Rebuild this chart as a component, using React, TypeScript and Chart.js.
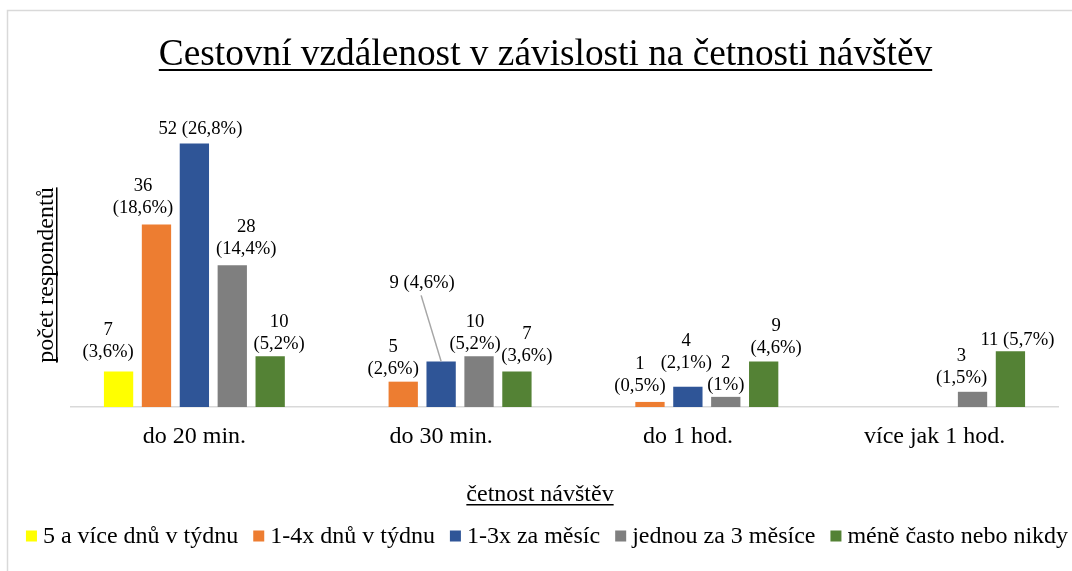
import React, { useEffect, useRef } from "react";
import { Chart, registerables } from "chart.js";

Chart.register(...registerables);

// ---------- data ----------
const categories = ["do 20 min.", "do 30 min.", "do 1 hod.", "více jak 1 hod."];
const seriesNames = [
  "5 a více dnů v týdnu",
  "1-4x dnů v týdnu",
  "1-3x za měsíc",
  "jednou za 3 měsíce",
  "méně často nebo nikdy",
];
const fiveOrMorePerWeek = [7, null, null, null];
const oneToFourPerWeek = [36, 5, 1, null];
const oneToThreePerMonth = [52, 9, 4, null];
const oncePerThreeMonths = [28, 10, 2, 3];
const lessOftenOrNever = [10, 7, 9, 11];
const seriesColors = ["#FFFF00", "#ED7D31", "#2F5597", "#7F7F7F", "#548235"];
const yMin = 0;
const yMax = 60;

const chartTitle = "Cestovní vzdálenost v závislosti na četnosti návštěv";
const yTitle = "počet respondentů";
const xTitle = "četnost návštěv";

// label placement relative to bar top centre: [dx, dy(last line), singleLine, leaderLine]
const labelPlacement: (null | [number, number, boolean, boolean?])[][] = [
  [[-10.5, -19, false], null, null, null],
  [[-13.5, -16.5, false], [-10, -13, false], [-10, -15.4, false], null],
  [[6, -14.5, true], [-19, -78, true, true], [-1.6, -24, false], null],
  [[14, -16, false], [-4, -12.7, false], [0, -11.6, false], [-11, -14, false]],
  [[9, -12, false], [10, -15.6, false], [12.5, -13.4, false], [7, -11, true]],
];

const SERIF = "'Liberation Serif', 'Times New Roman', serif";

const allSeries = [
  fiveOrMorePerWeek,
  oneToFourPerWeek,
  oneToThreePerMonth,
  oncePerThreeMonths,
  lessOftenOrNever,
];

const total = allSeries.reduce(
  (s, arr) => s + arr.reduce((a: number, v) => a + (v ?? 0), 0),
  0
);

function pctText(v: number): string {
  let t = ((v / total) * 100).toFixed(1);
  if (t.endsWith(".0")) t = t.slice(0, -2);
  return t.replace(".", ",") + "%";
}

const dataLabelPlugin = {
  id: "dataLabels",
  afterDatasetsDraw(chart: any) {
    const ctx = chart.ctx as CanvasRenderingContext2D;
    ctx.save();
    ctx.font = `18.67px ${SERIF}`;
    ctx.fillStyle = "#000";
    ctx.textAlign = "center";
    ctx.textBaseline = "middle";
    chart.data.datasets.forEach((ds: any, di: number) => {
      const meta = chart.getDatasetMeta(di);
      ds.data.forEach((v: number | null, i: number) => {
        if (v === null || v === undefined) return;
        const el = meta.data[i];
        const p = labelPlacement[di][i] || [0, -14, false];
        const lx = el.x + p[0];
        const ly = el.y + p[1];
        const a = String(v);
        const b = "(" + pctText(v) + ")";
        if (p[2]) {
          ctx.fillText(a + " " + b, lx, ly);
        } else {
          ctx.fillText(a, lx, ly - 22);
          ctx.fillText(b, lx, ly);
        }
        if (p[3]) {
          ctx.save();
          ctx.strokeStyle = "#A6A6A6";
          ctx.lineWidth = 1.5;
          ctx.beginPath();
          ctx.moveTo(lx - 1, ly + 12);
          ctx.lineTo(el.x, el.y);
          ctx.stroke();
          ctx.restore();
        }
      });
    });
    ctx.restore();
  },
};

const decorPlugin = {
  id: "decor",
  afterDraw(chart: any) {
    const ctx = chart.ctx as CanvasRenderingContext2D;
    ctx.save();
    // outer frame (top + left)
    ctx.strokeStyle = "#D9D9D9";
    ctx.lineWidth = 1.5;
    ctx.beginPath();
    ctx.moveTo(7.5, 571);
    ctx.lineTo(7.5, 10.5);
    ctx.lineTo(1072, 10.5);
    ctx.stroke();

    ctx.fillStyle = "#000";
    ctx.strokeStyle = "#000";

    // title
    ctx.font = `37.33px ${SERIF}`;
    ctx.textAlign = "center";
    ctx.textBaseline = "alphabetic";
    const tx = 545.5;
    const ty = 65;
    ctx.fillText(chartTitle, tx, ty);
    const tw = ctx.measureText(chartTitle).width;
    ctx.fillRect(tx - tw / 2, ty + 4, tw, 2);

    // x axis title
    ctx.font = `24px ${SERIF}`;
    const xx = 540;
    const xy = 501;
    ctx.fillText(xTitle, xx, xy);
    const xw = ctx.measureText(xTitle).width;
    ctx.fillRect(xx - xw / 2, xy + 3, xw, 1.5);

    // y axis title
    ctx.save();
    ctx.translate(53, 275);
    ctx.rotate(-Math.PI / 2);
    ctx.fillText(yTitle, 0, 0);
    const yw = ctx.measureText(yTitle).width;
    ctx.fillRect(-yw / 2, 3, yw, 1.5);
    ctx.restore();

    // legend
    ctx.font = `24px ${SERIF}`;
    ctx.textAlign = "left";
    const box = 11;
    const gapBoxText = 6;
    const gapItem = 15;
    const widths = chart.data.datasets.map((d: any) => ctx.measureText(d.label).width);
    const totalW =
      widths.reduce((a: number, w: number) => a + w, 0) +
      widths.length * (box + gapBoxText) +
      (widths.length - 1) * gapItem;
    let lx = 547 - totalW / 2;
    const boxCy = 536;
    const baseY = 543;
    chart.data.datasets.forEach((d: any, i: number) => {
      ctx.fillStyle = d.backgroundColor;
      ctx.fillRect(lx, boxCy - box / 2, box, box);
      lx += box + gapBoxText;
      ctx.fillStyle = "#000";
      ctx.fillText(d.label, lx, baseY);
      lx += widths[i] + gapItem;
    });
    ctx.restore();
  },
};

export default function App() {
  const ref = useRef<HTMLCanvasElement | null>(null);
  useEffect(() => {
    if (!ref.current) return;
    const chart = new Chart(ref.current, {
      type: "bar",
      data: {
        labels: categories,
        datasets: allSeries.map((arr, i) => ({
          label: seriesNames[i],
          data: arr as any,
          backgroundColor: seriesColors[i],
          borderWidth: 0,
          categoryPercentage: 0.768,
          barPercentage: 0.773,
        })),
      },
      options: {
        responsive: false,
        animation: false,
        devicePixelRatio: 1,
        layout: { padding: { left: 71, right: 14, top: 103, bottom: 104 } },
        plugins: {
          legend: { display: false },
          title: { display: false },
          tooltip: { enabled: false },
        },
        scales: {
          x: {
            grid: { display: false, drawTicks: false },
            border: { display: true, color: "#D9D9D9", width: 1.5 },
            ticks: {
              color: "#000",
              font: { family: SERIF, size: 24 },
              padding: 15.6,
              maxRotation: 0,
              autoSkip: false,
            },
          },
          y: {
            display: false,
            min: yMin,
            max: yMax,
          },
        },
      },
      plugins: [dataLabelPlugin, decorPlugin],
    });
    return () => chart.destroy();
  }, []);
  return (
    <canvas
      ref={ref}
      width={1072}
      height={571}
      style={{ position: "fixed", left: 0, top: 0, width: 1072, height: 571, background: "#fff" }}
    />
  );
}
